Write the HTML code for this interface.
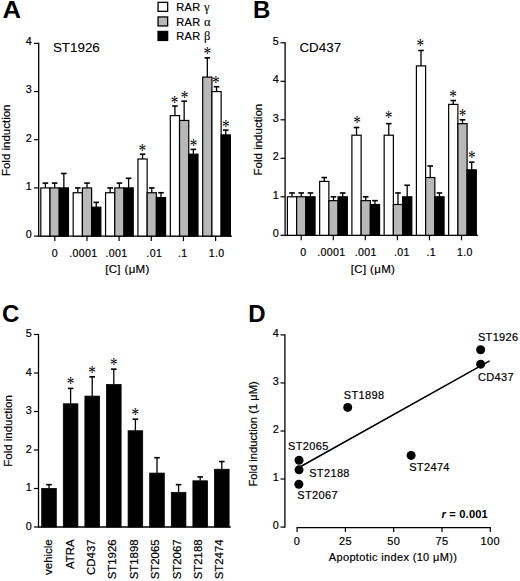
<!DOCTYPE html>
<html><head><meta charset="utf-8"><style>
html,body{margin:0;padding:0;background:#fff;overflow:hidden;width:520px;height:581px;}
svg{display:block;}
text{font-family:"Liberation Sans", sans-serif;fill:#000;letter-spacing:0.35px;stroke:#000;stroke-width:0.2px;}
</style></head><body>
<svg width="520" height="581" viewBox="0 0 520 581">
<rect width="520" height="581" fill="#fff"/>
<text x="0" y="0" font-size="24" font-weight="bold" transform="translate(2.5 18.0) scale(1.07 1)" style="stroke:none;letter-spacing:0">A</text>
<line x1="38.70" y1="42.78" x2="38.70" y2="236.70" stroke="#000" stroke-width="1.3"/>
<line x1="38.70" y1="236.10" x2="232.00" y2="236.10" stroke="#000" stroke-width="1.3"/>
<line x1="34.10" y1="236.10" x2="38.70" y2="236.10" stroke="#000" stroke-width="1.2"/>
<text x="32.00" y="237.90" font-size="10.8" text-anchor="end">0</text>
<line x1="34.10" y1="187.92" x2="38.70" y2="187.92" stroke="#000" stroke-width="1.2"/>
<text x="32.00" y="189.72" font-size="10.8" text-anchor="end">1</text>
<line x1="34.10" y1="139.74" x2="38.70" y2="139.74" stroke="#000" stroke-width="1.2"/>
<text x="32.00" y="141.54" font-size="10.8" text-anchor="end">2</text>
<line x1="34.10" y1="91.56" x2="38.70" y2="91.56" stroke="#000" stroke-width="1.2"/>
<text x="32.00" y="93.36" font-size="10.8" text-anchor="end">3</text>
<line x1="34.10" y1="43.38" x2="38.70" y2="43.38" stroke="#000" stroke-width="1.2"/>
<text x="32.00" y="45.18" font-size="10.8" text-anchor="end">4</text>
<text x="10.30" y="140.30" font-size="11.5" text-anchor="middle" transform="rotate(-90 10.30 140.30)" style="letter-spacing:0">Fold induction</text>
<text x="52.90" y="51.50" font-size="13.4" text-anchor="start" style="letter-spacing:0;stroke-width:0.1px">ST1926</text>
<line x1="45.41" y1="187.92" x2="45.41" y2="183.10" stroke="#000" stroke-width="1.3"/>
<line x1="42.61" y1="183.10" x2="48.21" y2="183.10" stroke="#000" stroke-width="1.6"/>
<rect x="40.80" y="187.92" width="9.22" height="48.18" fill="#fff" stroke="#000" stroke-width="1.2"/>
<line x1="54.63" y1="187.92" x2="54.63" y2="183.10" stroke="#000" stroke-width="1.3"/>
<line x1="51.83" y1="183.10" x2="57.43" y2="183.10" stroke="#000" stroke-width="1.6"/>
<rect x="50.02" y="187.92" width="9.22" height="48.18" fill="#b8b8b8" stroke="#000" stroke-width="1.2"/>
<line x1="63.85" y1="187.92" x2="63.85" y2="173.47" stroke="#000" stroke-width="1.3"/>
<line x1="61.05" y1="173.47" x2="66.65" y2="173.47" stroke="#000" stroke-width="1.6"/>
<rect x="59.24" y="187.92" width="9.22" height="48.18" fill="#000" stroke="#000" stroke-width="1.2"/>
<line x1="54.80" y1="236.10" x2="54.80" y2="241.10" stroke="#000" stroke-width="1.2"/>
<line x1="77.79" y1="192.74" x2="77.79" y2="187.92" stroke="#000" stroke-width="1.3"/>
<line x1="74.99" y1="187.92" x2="80.59" y2="187.92" stroke="#000" stroke-width="1.6"/>
<rect x="73.18" y="192.74" width="9.22" height="43.36" fill="#fff" stroke="#000" stroke-width="1.2"/>
<line x1="87.01" y1="187.92" x2="87.01" y2="183.10" stroke="#000" stroke-width="1.3"/>
<line x1="84.21" y1="183.10" x2="89.81" y2="183.10" stroke="#000" stroke-width="1.6"/>
<rect x="82.40" y="187.92" width="9.22" height="48.18" fill="#b8b8b8" stroke="#000" stroke-width="1.2"/>
<line x1="96.23" y1="207.19" x2="96.23" y2="202.37" stroke="#000" stroke-width="1.3"/>
<line x1="93.43" y1="202.37" x2="99.03" y2="202.37" stroke="#000" stroke-width="1.6"/>
<rect x="91.62" y="207.19" width="9.22" height="28.91" fill="#000" stroke="#000" stroke-width="1.2"/>
<line x1="86.96" y1="236.10" x2="86.96" y2="241.10" stroke="#000" stroke-width="1.2"/>
<line x1="110.17" y1="192.74" x2="110.17" y2="187.92" stroke="#000" stroke-width="1.3"/>
<line x1="107.37" y1="187.92" x2="112.97" y2="187.92" stroke="#000" stroke-width="1.6"/>
<rect x="105.56" y="192.74" width="9.22" height="43.36" fill="#fff" stroke="#000" stroke-width="1.2"/>
<line x1="119.39" y1="187.92" x2="119.39" y2="183.10" stroke="#000" stroke-width="1.3"/>
<line x1="116.59" y1="183.10" x2="122.19" y2="183.10" stroke="#000" stroke-width="1.6"/>
<rect x="114.78" y="187.92" width="9.22" height="48.18" fill="#b8b8b8" stroke="#000" stroke-width="1.2"/>
<line x1="128.61" y1="187.92" x2="128.61" y2="178.28" stroke="#000" stroke-width="1.3"/>
<line x1="125.81" y1="178.28" x2="131.41" y2="178.28" stroke="#000" stroke-width="1.6"/>
<rect x="124.00" y="187.92" width="9.22" height="48.18" fill="#000" stroke="#000" stroke-width="1.2"/>
<line x1="119.12" y1="236.10" x2="119.12" y2="241.10" stroke="#000" stroke-width="1.2"/>
<line x1="142.55" y1="159.01" x2="142.55" y2="154.19" stroke="#000" stroke-width="1.3"/>
<line x1="139.75" y1="154.19" x2="145.35" y2="154.19" stroke="#000" stroke-width="1.6"/>
<rect x="137.94" y="159.01" width="9.22" height="77.09" fill="#fff" stroke="#000" stroke-width="1.2"/>
<line x1="151.77" y1="192.74" x2="151.77" y2="187.92" stroke="#000" stroke-width="1.3"/>
<line x1="148.97" y1="187.92" x2="154.57" y2="187.92" stroke="#000" stroke-width="1.6"/>
<rect x="147.16" y="192.74" width="9.22" height="43.36" fill="#b8b8b8" stroke="#000" stroke-width="1.2"/>
<line x1="160.99" y1="197.56" x2="160.99" y2="192.74" stroke="#000" stroke-width="1.3"/>
<line x1="158.19" y1="192.74" x2="163.79" y2="192.74" stroke="#000" stroke-width="1.6"/>
<rect x="156.38" y="197.56" width="9.22" height="38.54" fill="#000" stroke="#000" stroke-width="1.2"/>
<line x1="151.28" y1="236.10" x2="151.28" y2="241.10" stroke="#000" stroke-width="1.2"/>
<line x1="174.93" y1="115.65" x2="174.93" y2="106.01" stroke="#000" stroke-width="1.3"/>
<line x1="172.13" y1="106.01" x2="177.73" y2="106.01" stroke="#000" stroke-width="1.6"/>
<rect x="170.32" y="115.65" width="9.22" height="120.45" fill="#fff" stroke="#000" stroke-width="1.2"/>
<line x1="184.15" y1="120.47" x2="184.15" y2="101.20" stroke="#000" stroke-width="1.3"/>
<line x1="181.35" y1="101.20" x2="186.95" y2="101.20" stroke="#000" stroke-width="1.6"/>
<rect x="179.54" y="120.47" width="9.22" height="115.63" fill="#b8b8b8" stroke="#000" stroke-width="1.2"/>
<line x1="193.37" y1="154.19" x2="193.37" y2="149.38" stroke="#000" stroke-width="1.3"/>
<line x1="190.57" y1="149.38" x2="196.17" y2="149.38" stroke="#000" stroke-width="1.6"/>
<rect x="188.76" y="154.19" width="9.22" height="81.91" fill="#000" stroke="#000" stroke-width="1.2"/>
<line x1="183.44" y1="236.10" x2="183.44" y2="241.10" stroke="#000" stroke-width="1.2"/>
<line x1="207.31" y1="77.11" x2="207.31" y2="57.83" stroke="#000" stroke-width="1.3"/>
<line x1="204.51" y1="57.83" x2="210.11" y2="57.83" stroke="#000" stroke-width="1.6"/>
<rect x="202.70" y="77.11" width="9.22" height="158.99" fill="#b8b8b8" stroke="#000" stroke-width="1.2"/>
<line x1="216.53" y1="91.56" x2="216.53" y2="86.74" stroke="#000" stroke-width="1.3"/>
<line x1="213.73" y1="86.74" x2="219.33" y2="86.74" stroke="#000" stroke-width="1.6"/>
<rect x="211.92" y="91.56" width="9.22" height="144.54" fill="#fff" stroke="#000" stroke-width="1.2"/>
<line x1="225.75" y1="134.92" x2="225.75" y2="130.10" stroke="#000" stroke-width="1.3"/>
<line x1="222.95" y1="130.10" x2="228.55" y2="130.10" stroke="#000" stroke-width="1.6"/>
<rect x="221.14" y="134.92" width="9.22" height="101.18" fill="#000" stroke="#000" stroke-width="1.2"/>
<line x1="215.60" y1="236.10" x2="215.60" y2="241.10" stroke="#000" stroke-width="1.2"/>
<text x="54.80" y="257.00" font-size="10.6" text-anchor="middle">0</text>
<text x="83.45" y="257.00" font-size="10.6" text-anchor="middle">.0001</text>
<text x="116.40" y="257.00" font-size="10.6" text-anchor="middle">.001</text>
<text x="154.25" y="257.00" font-size="10.6" text-anchor="middle">.01</text>
<text x="182.80" y="257.00" font-size="10.6" text-anchor="middle">.1</text>
<text x="216.70" y="257.00" font-size="10.6" text-anchor="middle">1.0</text>
<text x="127.45" y="272.80" font-size="11.5" text-anchor="middle">[C] (&#956;M)</text>
<text x="-4.55" y="9.50" font-size="18" transform="translate(142.30 147.80) scale(0.85 1)" style="font-family:'Liberation Serif', serif;letter-spacing:0;stroke:none">*</text>
<text x="-4.55" y="9.50" font-size="18" transform="translate(174.70 99.90) scale(0.85 1)" style="font-family:'Liberation Serif', serif;letter-spacing:0;stroke:none">*</text>
<text x="-4.55" y="9.50" font-size="18" transform="translate(184.50 94.50) scale(0.85 1)" style="font-family:'Liberation Serif', serif;letter-spacing:0;stroke:none">*</text>
<text x="-4.55" y="9.50" font-size="18" transform="translate(193.50 142.50) scale(0.85 1)" style="font-family:'Liberation Serif', serif;letter-spacing:0;stroke:none">*</text>
<text x="-4.55" y="9.50" font-size="18" transform="translate(207.40 50.80) scale(0.85 1)" style="font-family:'Liberation Serif', serif;letter-spacing:0;stroke:none">*</text>
<text x="-4.55" y="9.50" font-size="18" transform="translate(215.90 79.70) scale(0.85 1)" style="font-family:'Liberation Serif', serif;letter-spacing:0;stroke:none">*</text>
<text x="-4.55" y="9.50" font-size="18" transform="translate(225.90 123.90) scale(0.85 1)" style="font-family:'Liberation Serif', serif;letter-spacing:0;stroke:none">*</text>
<rect x="158.05" y="2.35" width="9.60" height="9.00" fill="#fff" stroke="#000" stroke-width="1.3"/>
<text x="176.30" y="10.60" font-size="11" text-anchor="start">RAR <tspan style="font-family:Liberation Serif, serif;stroke-width:0.1px" font-size="12.5">&#947;</tspan></text>
<rect x="158.05" y="16.95" width="9.60" height="9.00" fill="#b8b8b8" stroke="#000" stroke-width="1.3"/>
<text x="176.30" y="25.60" font-size="11" text-anchor="start">RAR <tspan style="font-family:Liberation Serif, serif;stroke-width:0.1px" font-size="12.5">&#945;</tspan></text>
<rect x="158.05" y="31.45" width="9.60" height="9.00" fill="#000" stroke="#000" stroke-width="1.3"/>
<text x="176.30" y="39.60" font-size="11" text-anchor="start">RAR <tspan style="font-family:Liberation Serif, serif;stroke-width:0.1px" font-size="12.5">&#946;</tspan></text>
<text x="253.00" y="18.00" font-size="24" text-anchor="start" font-weight="bold" style="stroke:none;letter-spacing:0">B</text>
<line x1="285.10" y1="42.20" x2="285.10" y2="235.90" stroke="#000" stroke-width="1.3"/>
<line x1="285.10" y1="235.30" x2="478.00" y2="235.30" stroke="#000" stroke-width="1.3"/>
<line x1="280.50" y1="235.30" x2="285.10" y2="235.30" stroke="#000" stroke-width="1.2"/>
<text x="279.20" y="237.30" font-size="10.8" text-anchor="end">0</text>
<line x1="280.50" y1="196.80" x2="285.10" y2="196.80" stroke="#000" stroke-width="1.2"/>
<text x="279.20" y="198.80" font-size="10.8" text-anchor="end">1</text>
<line x1="280.50" y1="158.30" x2="285.10" y2="158.30" stroke="#000" stroke-width="1.2"/>
<text x="279.20" y="160.30" font-size="10.8" text-anchor="end">2</text>
<line x1="280.50" y1="119.80" x2="285.10" y2="119.80" stroke="#000" stroke-width="1.2"/>
<text x="279.20" y="121.80" font-size="10.8" text-anchor="end">3</text>
<line x1="280.50" y1="81.30" x2="285.10" y2="81.30" stroke="#000" stroke-width="1.2"/>
<text x="279.20" y="83.30" font-size="10.8" text-anchor="end">4</text>
<line x1="280.50" y1="42.80" x2="285.10" y2="42.80" stroke="#000" stroke-width="1.2"/>
<text x="279.20" y="44.80" font-size="10.8" text-anchor="end">5</text>
<text x="262.40" y="139.60" font-size="11.5" text-anchor="middle" transform="rotate(-90 262.40 139.60)" style="letter-spacing:0">Fold induction</text>
<text x="299.40" y="51.70" font-size="13.4" text-anchor="start" style="letter-spacing:0;stroke-width:0.1px">CD437</text>
<line x1="292.01" y1="196.80" x2="292.01" y2="192.95" stroke="#000" stroke-width="1.3"/>
<line x1="289.21" y1="192.95" x2="294.81" y2="192.95" stroke="#000" stroke-width="1.6"/>
<rect x="287.40" y="196.80" width="9.22" height="38.50" fill="#fff" stroke="#000" stroke-width="1.2"/>
<line x1="301.23" y1="196.80" x2="301.23" y2="192.95" stroke="#000" stroke-width="1.3"/>
<line x1="298.43" y1="192.95" x2="304.03" y2="192.95" stroke="#000" stroke-width="1.6"/>
<rect x="296.62" y="196.80" width="9.22" height="38.50" fill="#b8b8b8" stroke="#000" stroke-width="1.2"/>
<line x1="310.45" y1="196.80" x2="310.45" y2="192.95" stroke="#000" stroke-width="1.3"/>
<line x1="307.65" y1="192.95" x2="313.25" y2="192.95" stroke="#000" stroke-width="1.6"/>
<rect x="305.84" y="196.80" width="9.22" height="38.50" fill="#000" stroke="#000" stroke-width="1.2"/>
<line x1="301.20" y1="235.30" x2="301.20" y2="240.30" stroke="#000" stroke-width="1.2"/>
<line x1="324.26" y1="181.40" x2="324.26" y2="177.55" stroke="#000" stroke-width="1.3"/>
<line x1="321.46" y1="177.55" x2="327.06" y2="177.55" stroke="#000" stroke-width="1.6"/>
<rect x="319.65" y="181.40" width="9.22" height="53.90" fill="#fff" stroke="#000" stroke-width="1.2"/>
<line x1="333.48" y1="200.65" x2="333.48" y2="196.80" stroke="#000" stroke-width="1.3"/>
<line x1="330.68" y1="196.80" x2="336.28" y2="196.80" stroke="#000" stroke-width="1.6"/>
<rect x="328.87" y="200.65" width="9.22" height="34.65" fill="#b8b8b8" stroke="#000" stroke-width="1.2"/>
<line x1="342.70" y1="196.80" x2="342.70" y2="192.95" stroke="#000" stroke-width="1.3"/>
<line x1="339.90" y1="192.95" x2="345.50" y2="192.95" stroke="#000" stroke-width="1.6"/>
<rect x="338.09" y="196.80" width="9.22" height="38.50" fill="#000" stroke="#000" stroke-width="1.2"/>
<line x1="333.26" y1="235.30" x2="333.26" y2="240.30" stroke="#000" stroke-width="1.2"/>
<line x1="356.51" y1="135.20" x2="356.51" y2="127.50" stroke="#000" stroke-width="1.3"/>
<line x1="353.71" y1="127.50" x2="359.31" y2="127.50" stroke="#000" stroke-width="1.6"/>
<rect x="351.90" y="135.20" width="9.22" height="100.10" fill="#fff" stroke="#000" stroke-width="1.2"/>
<line x1="365.73" y1="200.65" x2="365.73" y2="196.80" stroke="#000" stroke-width="1.3"/>
<line x1="362.93" y1="196.80" x2="368.53" y2="196.80" stroke="#000" stroke-width="1.6"/>
<rect x="361.12" y="200.65" width="9.22" height="34.65" fill="#b8b8b8" stroke="#000" stroke-width="1.2"/>
<line x1="374.95" y1="204.50" x2="374.95" y2="200.65" stroke="#000" stroke-width="1.3"/>
<line x1="372.15" y1="200.65" x2="377.75" y2="200.65" stroke="#000" stroke-width="1.6"/>
<rect x="370.34" y="204.50" width="9.22" height="30.80" fill="#000" stroke="#000" stroke-width="1.2"/>
<line x1="365.32" y1="235.30" x2="365.32" y2="240.30" stroke="#000" stroke-width="1.2"/>
<line x1="388.76" y1="135.20" x2="388.76" y2="123.65" stroke="#000" stroke-width="1.3"/>
<line x1="385.96" y1="123.65" x2="391.56" y2="123.65" stroke="#000" stroke-width="1.6"/>
<rect x="384.15" y="135.20" width="9.22" height="100.10" fill="#fff" stroke="#000" stroke-width="1.2"/>
<line x1="397.98" y1="204.50" x2="397.98" y2="192.95" stroke="#000" stroke-width="1.3"/>
<line x1="395.18" y1="192.95" x2="400.78" y2="192.95" stroke="#000" stroke-width="1.6"/>
<rect x="393.37" y="204.50" width="9.22" height="30.80" fill="#b8b8b8" stroke="#000" stroke-width="1.2"/>
<line x1="407.20" y1="196.80" x2="407.20" y2="185.25" stroke="#000" stroke-width="1.3"/>
<line x1="404.40" y1="185.25" x2="410.00" y2="185.25" stroke="#000" stroke-width="1.6"/>
<rect x="402.59" y="196.80" width="9.22" height="38.50" fill="#000" stroke="#000" stroke-width="1.2"/>
<line x1="397.38" y1="235.30" x2="397.38" y2="240.30" stroke="#000" stroke-width="1.2"/>
<line x1="421.01" y1="65.90" x2="421.01" y2="50.50" stroke="#000" stroke-width="1.3"/>
<line x1="418.21" y1="50.50" x2="423.81" y2="50.50" stroke="#000" stroke-width="1.6"/>
<rect x="416.40" y="65.90" width="9.22" height="169.40" fill="#fff" stroke="#000" stroke-width="1.2"/>
<line x1="430.23" y1="177.55" x2="430.23" y2="166.00" stroke="#000" stroke-width="1.3"/>
<line x1="427.43" y1="166.00" x2="433.03" y2="166.00" stroke="#000" stroke-width="1.6"/>
<rect x="425.62" y="177.55" width="9.22" height="57.75" fill="#b8b8b8" stroke="#000" stroke-width="1.2"/>
<line x1="439.45" y1="196.80" x2="439.45" y2="192.95" stroke="#000" stroke-width="1.3"/>
<line x1="436.65" y1="192.95" x2="442.25" y2="192.95" stroke="#000" stroke-width="1.6"/>
<rect x="434.84" y="196.80" width="9.22" height="38.50" fill="#000" stroke="#000" stroke-width="1.2"/>
<line x1="429.44" y1="235.30" x2="429.44" y2="240.30" stroke="#000" stroke-width="1.2"/>
<line x1="453.26" y1="104.40" x2="453.26" y2="100.55" stroke="#000" stroke-width="1.3"/>
<line x1="450.46" y1="100.55" x2="456.06" y2="100.55" stroke="#000" stroke-width="1.6"/>
<rect x="448.65" y="104.40" width="9.22" height="130.90" fill="#fff" stroke="#000" stroke-width="1.2"/>
<line x1="462.48" y1="123.65" x2="462.48" y2="119.80" stroke="#000" stroke-width="1.3"/>
<line x1="459.68" y1="119.80" x2="465.28" y2="119.80" stroke="#000" stroke-width="1.6"/>
<rect x="457.87" y="123.65" width="9.22" height="111.65" fill="#b8b8b8" stroke="#000" stroke-width="1.2"/>
<line x1="471.70" y1="169.85" x2="471.70" y2="162.15" stroke="#000" stroke-width="1.3"/>
<line x1="468.90" y1="162.15" x2="474.50" y2="162.15" stroke="#000" stroke-width="1.6"/>
<rect x="467.09" y="169.85" width="9.22" height="65.45" fill="#000" stroke="#000" stroke-width="1.2"/>
<line x1="461.50" y1="235.30" x2="461.50" y2="240.30" stroke="#000" stroke-width="1.2"/>
<text x="303.30" y="256.00" font-size="10.6" text-anchor="middle">0</text>
<text x="331.30" y="256.00" font-size="10.6" text-anchor="middle">.0001</text>
<text x="365.80" y="256.00" font-size="10.6" text-anchor="middle">.001</text>
<text x="401.90" y="256.00" font-size="10.6" text-anchor="middle">.01</text>
<text x="431.35" y="256.00" font-size="10.6" text-anchor="middle">.1</text>
<text x="464.85" y="256.00" font-size="10.6" text-anchor="middle">1.0</text>
<text x="373.00" y="272.80" font-size="11.5" text-anchor="middle">[C] (&#956;M)</text>
<text x="-4.55" y="9.50" font-size="18" transform="translate(357.00 119.00) scale(0.85 1)" style="font-family:'Liberation Serif', serif;letter-spacing:0;stroke:none">*</text>
<text x="-4.55" y="9.50" font-size="18" transform="translate(388.70 114.60) scale(0.85 1)" style="font-family:'Liberation Serif', serif;letter-spacing:0;stroke:none">*</text>
<text x="-4.55" y="9.50" font-size="18" transform="translate(420.30 42.80) scale(0.85 1)" style="font-family:'Liberation Serif', serif;letter-spacing:0;stroke:none">*</text>
<text x="-4.55" y="9.50" font-size="18" transform="translate(453.20 93.20) scale(0.85 1)" style="font-family:'Liberation Serif', serif;letter-spacing:0;stroke:none">*</text>
<text x="-4.55" y="9.50" font-size="18" transform="translate(462.60 112.10) scale(0.85 1)" style="font-family:'Liberation Serif', serif;letter-spacing:0;stroke:none">*</text>
<text x="-4.55" y="9.50" font-size="18" transform="translate(471.80 154.50) scale(0.85 1)" style="font-family:'Liberation Serif', serif;letter-spacing:0;stroke:none">*</text>
<text x="2.00" y="322.40" font-size="24" text-anchor="start" font-weight="bold" style="stroke:none;letter-spacing:0">C</text>
<line x1="38.50" y1="333.90" x2="38.50" y2="527.60" stroke="#000" stroke-width="1.3"/>
<line x1="38.50" y1="527.00" x2="230.75" y2="527.00" stroke="#000" stroke-width="1.3"/>
<line x1="33.90" y1="527.00" x2="38.50" y2="527.00" stroke="#000" stroke-width="1.2"/>
<text x="32.20" y="529.80" font-size="10.8" text-anchor="end">0</text>
<line x1="33.90" y1="488.50" x2="38.50" y2="488.50" stroke="#000" stroke-width="1.2"/>
<text x="32.20" y="491.30" font-size="10.8" text-anchor="end">1</text>
<line x1="33.90" y1="450.00" x2="38.50" y2="450.00" stroke="#000" stroke-width="1.2"/>
<text x="32.20" y="452.80" font-size="10.8" text-anchor="end">2</text>
<line x1="33.90" y1="411.50" x2="38.50" y2="411.50" stroke="#000" stroke-width="1.2"/>
<text x="32.20" y="414.30" font-size="10.8" text-anchor="end">3</text>
<line x1="33.90" y1="373.00" x2="38.50" y2="373.00" stroke="#000" stroke-width="1.2"/>
<text x="32.20" y="375.80" font-size="10.8" text-anchor="end">4</text>
<line x1="33.90" y1="334.50" x2="38.50" y2="334.50" stroke="#000" stroke-width="1.2"/>
<text x="32.20" y="337.30" font-size="10.8" text-anchor="end">5</text>
<text x="12.40" y="431.00" font-size="11.5" text-anchor="middle" transform="rotate(-90 12.40 431.00)" style="letter-spacing:0">Fold induction</text>
<line x1="49.00" y1="488.50" x2="49.00" y2="484.65" stroke="#000" stroke-width="1.3"/>
<line x1="46.20" y1="484.65" x2="51.80" y2="484.65" stroke="#000" stroke-width="1.6"/>
<rect x="41.70" y="488.50" width="14.60" height="38.50" fill="#000" stroke="#000" stroke-width="0.8"/>
<text x="52.45" y="539.40" font-size="11.4" text-anchor="end" transform="rotate(-90 52.45 539.40)" style="letter-spacing:0">vehicle</text>
<line x1="70.60" y1="403.80" x2="70.60" y2="388.40" stroke="#000" stroke-width="1.3"/>
<line x1="67.80" y1="388.40" x2="73.40" y2="388.40" stroke="#000" stroke-width="1.6"/>
<rect x="63.30" y="403.80" width="14.60" height="123.20" fill="#000" stroke="#000" stroke-width="0.8"/>
<text x="-4.55" y="9.50" font-size="18" transform="translate(70.60 380.80) scale(0.85 1)" style="font-family:'Liberation Serif', serif;letter-spacing:0;stroke:none">*</text>
<text x="74.45" y="539.40" font-size="11.4" text-anchor="end" transform="rotate(-90 74.45 539.40)" style="letter-spacing:0">ATRA</text>
<line x1="92.20" y1="396.10" x2="92.20" y2="376.85" stroke="#000" stroke-width="1.3"/>
<line x1="89.40" y1="376.85" x2="95.00" y2="376.85" stroke="#000" stroke-width="1.6"/>
<rect x="84.90" y="396.10" width="14.60" height="130.90" fill="#000" stroke="#000" stroke-width="0.8"/>
<text x="-4.55" y="9.50" font-size="18" transform="translate(92.20 369.25) scale(0.85 1)" style="font-family:'Liberation Serif', serif;letter-spacing:0;stroke:none">*</text>
<text x="95.35" y="539.40" font-size="11.4" text-anchor="end" transform="rotate(-90 95.35 539.40)" style="letter-spacing:0">CD437</text>
<line x1="113.80" y1="384.55" x2="113.80" y2="369.15" stroke="#000" stroke-width="1.3"/>
<line x1="111.00" y1="369.15" x2="116.60" y2="369.15" stroke="#000" stroke-width="1.6"/>
<rect x="106.50" y="384.55" width="14.60" height="142.45" fill="#000" stroke="#000" stroke-width="0.8"/>
<text x="-4.55" y="9.50" font-size="18" transform="translate(113.80 361.55) scale(0.85 1)" style="font-family:'Liberation Serif', serif;letter-spacing:0;stroke:none">*</text>
<text x="115.80" y="539.40" font-size="11.4" text-anchor="end" transform="rotate(-90 115.80 539.40)" style="letter-spacing:0">ST1926</text>
<line x1="135.40" y1="430.75" x2="135.40" y2="419.20" stroke="#000" stroke-width="1.3"/>
<line x1="132.60" y1="419.20" x2="138.20" y2="419.20" stroke="#000" stroke-width="1.6"/>
<rect x="128.10" y="430.75" width="14.60" height="96.25" fill="#000" stroke="#000" stroke-width="0.8"/>
<text x="-4.55" y="9.50" font-size="18" transform="translate(135.40 411.60) scale(0.85 1)" style="font-family:'Liberation Serif', serif;letter-spacing:0;stroke:none">*</text>
<text x="137.85" y="539.40" font-size="11.4" text-anchor="end" transform="rotate(-90 137.85 539.40)" style="letter-spacing:0">ST1898</text>
<line x1="157.00" y1="473.10" x2="157.00" y2="457.70" stroke="#000" stroke-width="1.3"/>
<line x1="154.20" y1="457.70" x2="159.80" y2="457.70" stroke="#000" stroke-width="1.6"/>
<rect x="149.70" y="473.10" width="14.60" height="53.90" fill="#000" stroke="#000" stroke-width="0.8"/>
<text x="158.70" y="539.40" font-size="11.4" text-anchor="end" transform="rotate(-90 158.70 539.40)" style="letter-spacing:0">ST2065</text>
<line x1="178.60" y1="492.35" x2="178.60" y2="484.65" stroke="#000" stroke-width="1.3"/>
<line x1="175.80" y1="484.65" x2="181.40" y2="484.65" stroke="#000" stroke-width="1.6"/>
<rect x="171.30" y="492.35" width="14.60" height="34.65" fill="#000" stroke="#000" stroke-width="0.8"/>
<text x="180.60" y="539.40" font-size="11.4" text-anchor="end" transform="rotate(-90 180.60 539.40)" style="letter-spacing:0">ST2067</text>
<line x1="200.20" y1="480.80" x2="200.20" y2="476.95" stroke="#000" stroke-width="1.3"/>
<line x1="197.40" y1="476.95" x2="203.00" y2="476.95" stroke="#000" stroke-width="1.6"/>
<rect x="192.90" y="480.80" width="14.60" height="46.20" fill="#000" stroke="#000" stroke-width="0.8"/>
<text x="201.60" y="539.40" font-size="11.4" text-anchor="end" transform="rotate(-90 201.60 539.40)" style="letter-spacing:0">ST2188</text>
<line x1="221.80" y1="469.25" x2="221.80" y2="461.55" stroke="#000" stroke-width="1.3"/>
<line x1="219.00" y1="461.55" x2="224.60" y2="461.55" stroke="#000" stroke-width="1.6"/>
<rect x="214.50" y="469.25" width="14.60" height="57.75" fill="#000" stroke="#000" stroke-width="0.8"/>
<text x="223.20" y="539.40" font-size="11.4" text-anchor="end" transform="rotate(-90 223.20 539.40)" style="letter-spacing:0">ST2474</text>
<text x="248.20" y="322.30" font-size="24" text-anchor="start" font-weight="bold" style="stroke:none;letter-spacing:0">D</text>
<line x1="284.90" y1="334.30" x2="284.90" y2="527.70" stroke="#000" stroke-width="1.3"/>
<line x1="280.50" y1="527.10" x2="284.90" y2="527.10" stroke="#000" stroke-width="1.2"/>
<text x="279.20" y="529.00" font-size="10.8" text-anchor="end">0</text>
<line x1="280.50" y1="479.05" x2="284.90" y2="479.05" stroke="#000" stroke-width="1.2"/>
<text x="279.20" y="480.95" font-size="10.8" text-anchor="end">1</text>
<line x1="280.50" y1="431.00" x2="284.90" y2="431.00" stroke="#000" stroke-width="1.2"/>
<text x="279.20" y="432.90" font-size="10.8" text-anchor="end">2</text>
<line x1="280.50" y1="382.95" x2="284.90" y2="382.95" stroke="#000" stroke-width="1.2"/>
<text x="279.20" y="384.85" font-size="10.8" text-anchor="end">3</text>
<line x1="280.50" y1="334.90" x2="284.90" y2="334.90" stroke="#000" stroke-width="1.2"/>
<text x="279.20" y="336.80" font-size="10.8" text-anchor="end">4</text>
<text x="256.60" y="433.90" font-size="11.2" text-anchor="middle" transform="rotate(-90 256.60 433.90)" style="letter-spacing:0">Fold induction (1 &#956;M)</text>
<line x1="296.50" y1="527.70" x2="490.90" y2="527.70" stroke="#000" stroke-width="1.3"/>
<line x1="297.10" y1="527.70" x2="297.10" y2="532.00" stroke="#000" stroke-width="1.2"/>
<text x="297.10" y="544.80" font-size="11" text-anchor="middle">0</text>
<line x1="345.40" y1="527.70" x2="345.40" y2="532.00" stroke="#000" stroke-width="1.2"/>
<text x="345.40" y="544.80" font-size="11" text-anchor="middle">25</text>
<line x1="393.70" y1="527.70" x2="393.70" y2="532.00" stroke="#000" stroke-width="1.2"/>
<text x="393.70" y="544.80" font-size="11" text-anchor="middle">50</text>
<line x1="442.00" y1="527.70" x2="442.00" y2="532.00" stroke="#000" stroke-width="1.2"/>
<text x="442.00" y="544.80" font-size="11" text-anchor="middle">75</text>
<line x1="490.30" y1="527.70" x2="490.30" y2="532.00" stroke="#000" stroke-width="1.2"/>
<text x="490.30" y="544.80" font-size="11" text-anchor="middle">100</text>
<text x="393.00" y="561.20" font-size="11" text-anchor="middle">Apoptotic index (10 &#956;M))</text>
<text x="488.00" y="518.00" font-size="11.2" text-anchor="end" font-weight="bold" style="letter-spacing:0.15px;stroke:none"><tspan font-style="italic">r</tspan> = 0.001</text>
<line x1="301.20" y1="466.30" x2="489.60" y2="360.90" stroke="#000" stroke-width="1.6"/>
<circle cx="480.64" cy="349.72" r="4.5" fill="#000"/>
<circle cx="480.64" cy="364.13" r="4.5" fill="#000"/>
<circle cx="347.72" cy="407.38" r="4.5" fill="#000"/>
<circle cx="299.03" cy="460.23" r="4.5" fill="#000"/>
<circle cx="299.03" cy="469.84" r="4.5" fill="#000"/>
<circle cx="298.84" cy="484.25" r="4.5" fill="#000"/>
<circle cx="411.09" cy="455.43" r="4.5" fill="#000"/>
<text x="477.90" y="340.80" font-size="11" text-anchor="start">ST1926</text>
<text x="477.90" y="381.30" font-size="11" text-anchor="start">CD437</text>
<text x="343.80" y="399.20" font-size="11" text-anchor="start">ST1898</text>
<text x="288.10" y="450.00" font-size="11" text-anchor="start">ST2065</text>
<text x="309.20" y="476.50" font-size="11" text-anchor="start">ST2188</text>
<text x="297.30" y="498.70" font-size="11" text-anchor="start">ST2067</text>
<text x="409.20" y="471.10" font-size="11" text-anchor="start">ST2474</text>
</svg>
</body></html>
